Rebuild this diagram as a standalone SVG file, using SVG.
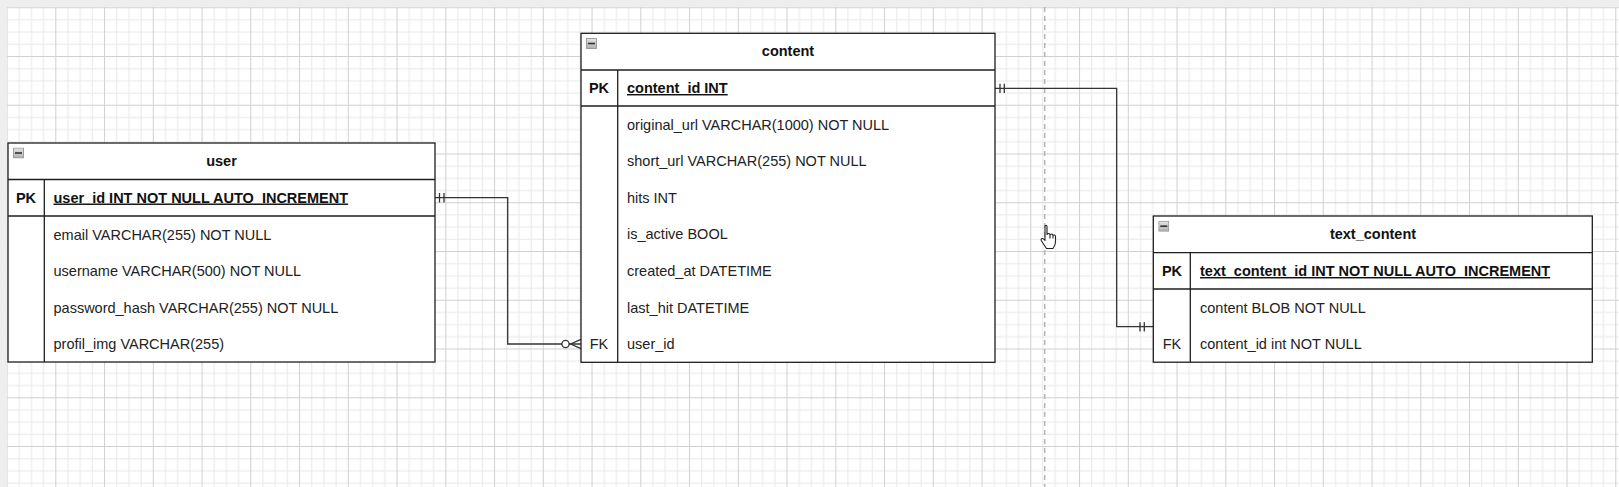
<svg xmlns="http://www.w3.org/2000/svg" width="1619" height="487" viewBox="0 0 1619 487">
<style>
  .box { fill: #ffffff; stroke: #1e1e1e; stroke-width: 1.3; }
  .sep { stroke: #1e1e1e; stroke-width: 1.3; fill: none; }
  .sep2 { stroke: #1e1e1e; stroke-width: 1.7; fill: none; }
  .title { font-family: "Liberation Sans", Arial, sans-serif; font-size: 14.5px; font-weight: bold; fill: #111; text-anchor: middle; }
  .key { font-family: "Liberation Sans", Arial, sans-serif; font-size: 14.5px; font-weight: bold; fill: #111; text-anchor: middle; }
  .fk { font-family: "Liberation Sans", Arial, sans-serif; font-size: 14.5px; fill: #222; text-anchor: middle; }
  .pkf { font-family: "Liberation Sans", Arial, sans-serif; font-size: 14.5px; font-weight: bold; fill: #111; text-decoration: underline; }
  .fld { font-family: "Liberation Sans", Arial, sans-serif; font-size: 14.5px; fill: #222; }
  .conn { stroke: #333; stroke-width: 1.3; fill: none; }
  .icon { fill: url(#ig); stroke: #8a8a8a; stroke-width: 0.8; }
</style>
<defs>
  <linearGradient id="ig" x1="0" y1="0" x2="0" y2="1">
    <stop offset="0" stop-color="#e4e4e4"/>
    <stop offset="1" stop-color="#b0b0b0"/>
  </linearGradient>
  <pattern id="grid" x="6.55" y="7.25" width="48.75" height="48.75" patternUnits="userSpaceOnUse">
    <rect x="12.19" y="0" width="1" height="48.75" fill="#e8e8e8"/>
    <rect x="24.38" y="0" width="1" height="48.75" fill="#e8e8e8"/>
    <rect x="36.56" y="0" width="1" height="48.75" fill="#e8e8e8"/>
    <rect x="0" y="12.19" width="48.75" height="1" fill="#e8e8e8"/>
    <rect x="0" y="24.38" width="48.75" height="1" fill="#e8e8e8"/>
    <rect x="0" y="36.56" width="48.75" height="1" fill="#e8e8e8"/>
    <rect x="0" y="0" width="1" height="48.75" fill="#d0d0d0"/>
    <rect x="0" y="0" width="48.75" height="1" fill="#d0d0d0"/>
  </pattern>
  <symbol id="minus" viewBox="0 0 11 11">
    <rect x="0.5" y="0.5" width="10" height="10" class="icon"/>
    <rect x="2" y="4.7" width="7" height="1.6" fill="#333"/>
  </symbol>
</defs>

<rect x="0" y="0" width="1619" height="487" fill="#eeeeee"/>
<rect x="7" y="7" width="1612" height="480" fill="#ffffff"/>
<rect x="7" y="7" width="1612" height="480" fill="url(#grid)"/>
<line x1="1044.7" y1="7" x2="1044.7" y2="487" stroke="#b5b5b5" stroke-width="1.5" stroke-dasharray="5 4"/>

<g id="connectors">
  <path class="conn" d="M435,197.7 H507.7 V344 H581"/>
  <path class="conn" d="M439.5,193 V202.5 M444,193 V202.5"/>
  <circle cx="565.5" cy="344" r="3.6" fill="#fff" stroke="#333" stroke-width="1.3"/>
  <path class="conn" d="M581,339.3 L570.5,344 L581,348.7"/>
  <path class="conn" d="M995,88.3 H1116.7 V326.7 H1153.3"/>
  <path class="conn" d="M1000,83.8 V93 M1004.3,83.8 V93"/>
  <path class="conn" d="M1140,322.2 V331.4 M1144.3,322.2 V331.4"/>
</g>

<g id="user">
  <rect class="box" x="8" y="143" width="427" height="219"/>
  <use href="#minus" x="13" y="147.5" width="11" height="11"/>
  <text class="title" x="221.5" y="166">user</text>
  <line class="sep" x1="8" y1="179.5" x2="435" y2="179.5"/>
  <line class="sep2" x1="8" y1="216" x2="435" y2="216"/>
  <line class="sep" x1="44.3" y1="179.5" x2="44.3" y2="362"/>
  <text class="key" x="26" y="202.5">PK</text>
  <text class="pkf" x="53.5" y="202.5">user_id INT NOT NULL AUTO_INCREMENT</text>
  <text class="fld" x="53.5" y="239.5">email VARCHAR(255) NOT NULL</text>
  <text class="fld" x="53.5" y="276">username VARCHAR(500) NOT NULL</text>
  <text class="fld" x="53.5" y="312.5">password_hash VARCHAR(255) NOT NULL</text>
  <text class="fld" x="53.5" y="349">profil_img VARCHAR(255)</text>
</g>

<g id="content">
  <rect class="box" x="581" y="33.3" width="414" height="329"/>
  <use href="#minus" x="586" y="38" width="11" height="11"/>
  <text class="title" x="788" y="56.2">content</text>
  <line class="sep" x1="581" y1="70" x2="995" y2="70"/>
  <line class="sep2" x1="581" y1="106" x2="995" y2="106"/>
  <line class="sep" x1="617.7" y1="70" x2="617.7" y2="362.3"/>
  <text class="key" x="599" y="93">PK</text>
  <text class="pkf" x="627" y="93">content_id INT</text>
  <text class="fld" x="627" y="129.5">original_url VARCHAR(1000) NOT NULL</text>
  <text class="fld" x="627" y="166.1">short_url VARCHAR(255) NOT NULL</text>
  <text class="fld" x="627" y="202.7">hits INT</text>
  <text class="fld" x="627" y="239.3">is_active BOOL</text>
  <text class="fld" x="627" y="275.9">created_at DATETIME</text>
  <text class="fld" x="627" y="312.5">last_hit DATETIME</text>
  <text class="fk" x="599" y="349.1">FK</text>
  <text class="fld" x="627" y="349.1">user_id</text>
</g>

<g id="text_content">
  <rect class="box" x="1153.3" y="216" width="439" height="146.2"/>
  <use href="#minus" x="1158.3" y="220.7" width="11" height="11"/>
  <text class="title" x="1373" y="238.9">text_content</text>
  <line class="sep" x1="1153.3" y1="252.7" x2="1592.3" y2="252.7"/>
  <line class="sep2" x1="1153.3" y1="289" x2="1592.3" y2="289"/>
  <line class="sep" x1="1190.3" y1="252.7" x2="1190.3" y2="362.2"/>
  <text class="key" x="1172" y="276">PK</text>
  <text class="pkf" x="1200" y="276">text_content_id INT NOT NULL AUTO_INCREMENT</text>
  <text class="fld" x="1200" y="312.5">content BLOB NOT NULL</text>
  <text class="fk" x="1172" y="349.1">FK</text>
  <text class="fld" x="1200" y="349.1">content_id int NOT NULL</text>
</g>

<path transform="translate(1040,224.5)" fill="#fff" stroke="#222" stroke-width="1.1" stroke-linejoin="round"
  d="M5,2 Q5,0.8 6,0.8 Q7,0.8 7,2 V10 Q7,9 8.5,9 Q10,9 10,10.5 Q10,9.5 11.5,9.5 Q13,9.5 13,11 Q13,10.5 14.2,10.5 Q15.5,10.5 15.5,12 V17 Q15.5,21 13,24 H6.5 Q4.5,21 1.5,16.5 Q0.5,14.5 2,14 Q3,13.6 5,16 Z M10,10.5 V14 M13,11 V14"/>
</svg>
